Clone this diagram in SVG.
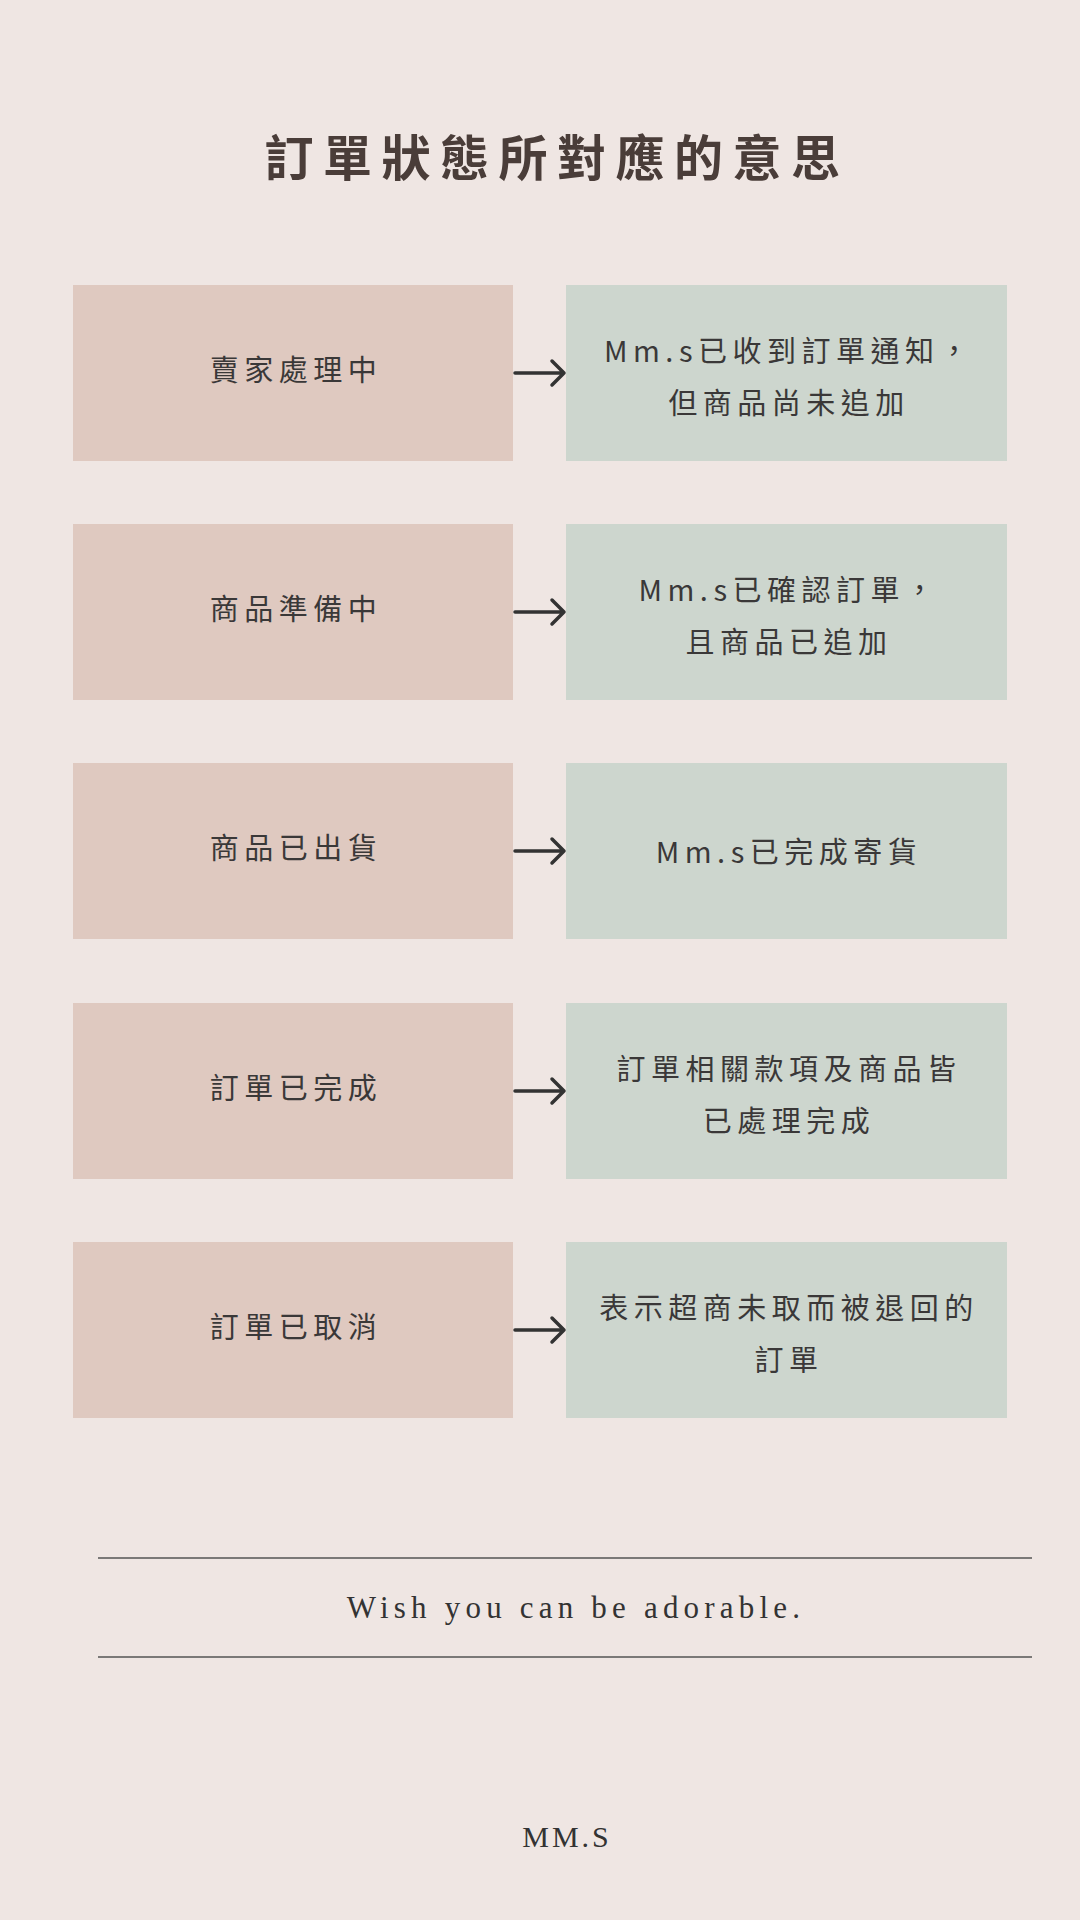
<svg xmlns="http://www.w3.org/2000/svg" width="1080" height="1920" viewBox="0 0 1080 1920">
<style>
.bg{fill:#EFE6E3}
.lbox{fill:#DFC9C0}
.rbox{fill:#CDD6CE}
.t{font-family:"Noto Sans CJK TC","Noto Sans",sans-serif;font-size:29px;fill:#3a3838;letter-spacing:5.5px;text-anchor:middle;dominant-baseline:central}
.title{font-family:"Noto Sans CJK TC","Noto Sans",sans-serif;font-size:49px;font-weight:bold;fill:#4a3d39;letter-spacing:9.5px;text-anchor:middle;dominant-baseline:central}
.serif{font-family:"Liberation Serif",serif;fill:#333;text-anchor:middle}
.arrow{stroke:#333;stroke-width:3.5;fill:none;stroke-linecap:round;stroke-linejoin:round}
.rule{stroke:#555;stroke-width:1.5}
</style>
<rect class="bg" x="0" y="0" width="1080" height="1920"/>
<text class="title" x="557" y="154">訂單狀態所對應的意思</text>

<g id="n1l"><rect class="lbox" x="73" y="285" width="440" height="176"/><text class="t" x="296" y="368">賣家處理中</text></g>
<g id="n1r"><rect class="rbox" x="566" y="285" width="441" height="176"/><text class="t" x="789" y="349">Mm.s已收到訂單通知，</text><text class="t" x="789" y="401">但商品尚未追加</text></g>

<g id="n2l"><rect class="lbox" x="73" y="524" width="440" height="176"/><text class="t" x="296" y="607">商品準備中</text></g>
<g id="n2r"><rect class="rbox" x="566" y="524" width="441" height="176"/><text class="t" x="789" y="588">Mm.s已確認訂單，</text><text class="t" x="789" y="640">且商品已追加</text></g>

<g id="n3l"><rect class="lbox" x="73" y="763" width="440" height="176"/><text class="t" x="296" y="846">商品已出貨</text></g>
<g id="n3r"><rect class="rbox" x="566" y="763" width="441" height="176"/><text class="t" x="789" y="850">Mm.s已完成寄貨</text></g>

<g id="n4l"><rect class="lbox" x="73" y="1003" width="440" height="176"/><text class="t" x="296" y="1086">訂單已完成</text></g>
<g id="n4r"><rect class="rbox" x="566" y="1003" width="441" height="176"/><text class="t" x="789" y="1067">訂單相關款項及商品皆</text><text class="t" x="789" y="1119">已處理完成</text></g>

<g id="n5l"><rect class="lbox" x="73" y="1242" width="440" height="176"/><text class="t" x="296" y="1325">訂單已取消</text></g>
<g id="n5r"><rect class="rbox" x="566" y="1242" width="441" height="176"/><text class="t" x="789" y="1306">表示超商未取而被退回的</text><text class="t" x="789" y="1358">訂單</text></g>

<g id="connectors">
<path class="arrow" d="M515 373H564M552 361L564 373L552 385"/>
<path class="arrow" d="M515 612H564M552 600L564 612L552 624"/>
<path class="arrow" d="M515 851H564M552 839L564 851L552 863"/>
<path class="arrow" d="M515 1091H564M552 1079L564 1091L552 1103"/>
<path class="arrow" d="M515 1330H564M552 1318L564 1330L552 1342"/>
</g>

<line class="rule" x1="98" y1="1558" x2="1032" y2="1558"/>
<line class="rule" x1="98" y1="1657" x2="1032" y2="1657"/>
<text class="serif" x="576" y="1618" font-size="31" letter-spacing="5.2">Wish you can be adorable.</text>
<text class="serif" x="567" y="1847" font-size="30" letter-spacing="3">MM.S</text>
</svg>
